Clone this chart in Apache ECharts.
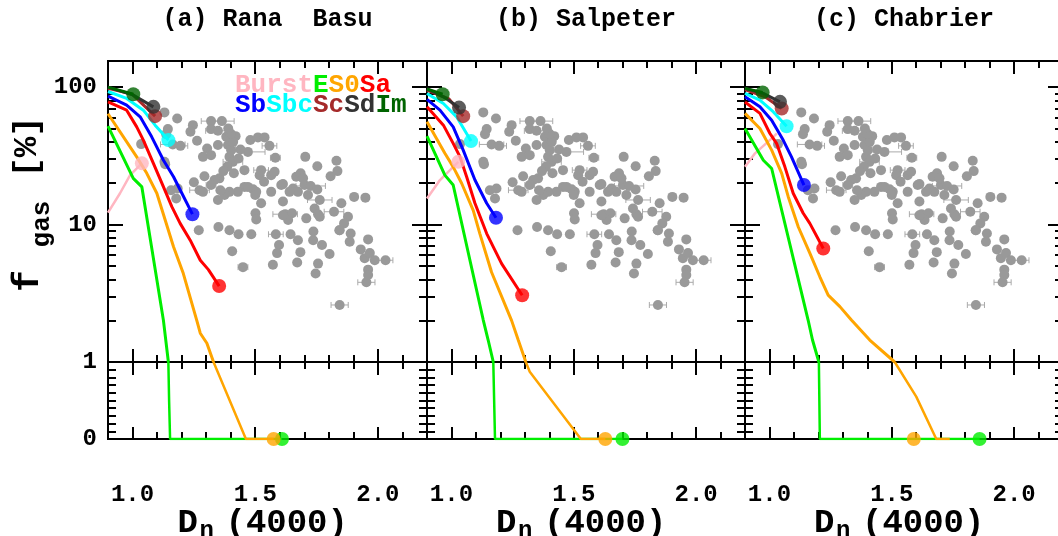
<!DOCTYPE html>
<html>
<head>
<meta charset="utf-8">
<script src="https://cdn.jsdelivr.net/npm/echarts@6/dist/echarts.min.js"></script>
<style>
html, body { margin: 0; padding: 0; background: #fff; }
#chart { width: 1058px; height: 536px; }
</style>
</head>
<body>
<div id="chart"></div>
<script>
// observed galaxies: [Dn(4000), f_gas %, x error]
const obs = [
  [1.130,65.5,0],[1.182,59.2,0],[1.246,52.9,0],[1.144,49.5,0],[1.137,45.5,0],[1.236,47.3,0],
  [1.164,38.3,0.05],[1.195,37.4,0.03],[1.263,40.7,0],[1.320,56.6,0.04],[1.364,56.6,0.05],[1.320,49.5,0],
  [1.348,48.1,0.05],[1.382,43.5,0],[1.389,37.9,0.03],[1.348,37.9,0],[1.304,35.8,0],[1.287,31.1,0],
  [1.320,32.0,0],[1.395,31.1,0],[1.409,28.6,0.04],[1.432,30.3,0],[1.470,33.8,0.07],[1.480,41.2,0],
  [1.511,43.1,0],[1.538,43.1,0],[1.558,37.4,0.03],[1.582,30.6,0.02],[1.704,31.1,0],[1.753,26.6,0],
  [1.831,29.1,0],[1.835,24.5,0],[1.807,22.5,0],[1.667,22.3,0],[1.685,23.6,0],[1.701,19.4,0],
  [1.726,19.1,0.06],[1.654,18.3,0],[1.606,19.4,0],[1.565,22.9,0],[1.524,24.9,0.03],[1.518,22.9,0],
  [1.536,20.5,0],[1.565,17.3,0],[1.504,17.3,0],[1.491,18.1,0],[1.456,18.8,0],[1.429,17.3,0],
  [1.395,17.3,0],[1.375,16.4,0],[1.348,15.1,0],[1.354,21.7,0],[1.334,21.1,0],[1.320,19.4,0.02],
  [1.293,22.5,0],[1.250,20.3,0],[1.273,17.8,0.04],[1.287,17.3,0],[1.157,17.8,0],[1.184,18.3,0],
  [1.178,15.5,0],[1.133,27.5,0],[1.130,28.6,0],[1.524,14.3,0],[1.501,12.1,0],[1.504,10.9,0],
  [1.613,14.7,0],[1.622,11.9,0.05],[1.650,12.1,0],[1.634,10.8,0],[1.708,11.1,0],[1.742,13.1,0],
  [1.763,15.1,0.05],[1.756,11.9,0],[1.763,11.4,0],[1.821,12.4,0.04],[1.851,14.3,0],[1.878,11.4,0],
  [1.862,10.2,0],[1.844,9.1,0],[1.903,15.9,0],[1.949,15.7,0],[1.715,16.4,0],[1.674,17.3,0],
  [1.613,11.7,0],[1.270,9.1,0],[1.350,9.6,0],[1.395,9.1,0],[1.432,8.5,0],[1.484,8.5,0],
  [1.406,6.4,0],[1.450,4.9,0.02],[1.584,8.5,0.03],[1.597,7.1,0],[1.589,6.2,0],[1.572,5.1,0],
  [1.644,8.5,0],[1.674,7.7,0],[1.684,6.3,0],[1.671,5.3,0],[1.737,8.9,0],[1.736,7.7,0],
  [1.772,7.1,0],[1.756,5.2,0],[1.746,4.4,0],[1.803,6.1,0],[1.843,9.1,0],[1.889,8.6,0],
  [1.885,7.5,0],[1.930,6.6,0],[1.960,7.8,0],[1.946,5.7,0],[1.967,6.2,0],[1.987,5.5,0],
  [2.031,5.5,0.03],[1.960,4.7,0],[1.960,4.3,0],[1.953,3.8,0.035],[1.844,2.6,0.035],[1.579,24.2,0],
  [1.613,19.7,0],[1.640,17.3,0],[1.695,21.7,0],[1.753,18.0,0],[1.456,24.9,0],[1.440,35.2,0],
  [1.402,34.8,0],[1.413,23.6,0],[1.358,17.8,0],[1.500,16.4,0],[1.035,38.5,0],[1.386,26.3,0],
  [1.370,24.5,0],[1.420,44.0,0],[1.410,40.0,0],[1.400,46.0,0],[1.390,50.0,0],[1.470,18.8,0]
];

// (a) Rana & Basu IMF model tracks
const rbBurst = [[0.9,12.2],[0.949,16.9],[0.99,22.9],[1.038,27.9]];
const rbE = [[0.9,52],[1.003,21.7],[1.038,18.8],[1.126,2.0],[1.146,1]];
const rbElow = [[1.146,1],[1.149,0.5],[1.153,0],[1.609,0]];
const rbS0 = [[0.9,64],[1.017,31.1],[1.058,23.6],[1.099,16.9],[1.133,10.8],[1.167,6.9],[1.207,4.4],[1.262,2.0],[1.276,1.62],[1.303,1.37],[1.330,1]];
const rbS0low = [[1.330,1],[1.462,0],[1.575,0]];
const rbSa = [[0.9,78],[0.976,68],[1.017,51.4],[1.044,41.2],[1.085,27.9],[1.126,18.8],[1.160,13.5],[1.194,10.2],[1.235,7.7],[1.276,5.5],[1.309,4.7],[1.353,3.57]];
const rbSb = [[0.9,86],[0.976,74],[1.031,60.8],[1.078,43.5],[1.126,29.4],[1.167,22.3],[1.201,16.9],[1.244,11.9]];
const rbSbc = [[0.9,93],[0.976,82.8],[1.044,68],[1.092,52.9],[1.146,41.2]];
const rbSc = [[0.9,98],[0.998,89],[1.092,61.5]];
const rbSd = [[0.9,100],[1.003,87.5],[1.085,71.9]];
const rbIm = [[0.9,100],[1.003,88.9]];

// (b) Salpeter
const saBurst = [[0.9,15.5],[0.953,21.1],[1.028,28.6]];
const saE = [[0.9,44],[0.973,22.9],[1.007,19.4],[1.130,2.02],[1.150,1.445],[1.171,1]];
const saElow = [[1.171,1],[1.178,0],[1.699,0]];
const saS0 = [[0.9,56],[0.973,33],[1.007,26.3],[1.042,19.9],[1.089,12.7],[1.116,8.6],[1.164,4.5],[1.246,2.0],[1.273,1.445],[1.304,1]];
const saS0low = [[1.304,1],[1.320,0.874],[1.529,0],[1.629,0]];
const saSa = [[0.9,72],[0.967,52.9],[1.007,39],[1.035,31.1],[1.062,22.3],[1.096,14.3],[1.144,8.6],[1.205,5.2],[1.289,3.06]];
const saSb = [[0.9,81.4],[0.953,68],[1.007,51.4],[1.048,34.8],[1.096,21.1],[1.144,14.3],[1.182,11.2]];
const saSbc = [[0.9,90],[0.967,76],[1.021,60.8],[1.080,40.5]];
const saSc = [[0.9,95],[0.99,82],[1.048,61.5]];
const saSd = [[0.9,97],[0.967,85],[1.031,71]];
const saIm = [[0.9,97],[0.964,88.9]];

// (c) Chabrier
const chBurst = [[0.9,26.3],[0.941,33],[1.016,43.5],[1.03,46]];
const chE = [[0.9,50],[0.975,29.4],[1.009,25.6],[1.158,2.02],[1.176,1.445],[1.202,1]];
const chElow = [[1.202,1],[1.206,0],[1.859,0]];
const chS0 = [[0.9,64.4],[0.961,50],[1.009,34.8],[1.050,23.6],[1.077,15.9],[1.118,9.6],[1.165,6.2],[1.206,4.17],[1.240,3.07],[1.288,2.53],[1.335,2.02],[1.41,1.445],[1.512,1]];
const chS0low = [[1.512,1],[1.60,0.55],[1.682,0],[1.737,0]];
const chS0dot = [[1.59,0]];
const chSa = [[0.9,78],[0.961,64.4],[1.002,46],[1.029,39],[1.063,26.3],[1.097,16.9],[1.138,12.1],[1.165,10.2],[1.220,6.7]];
const chSb = [[0.9,85],[0.961,71.9],[1.009,57.5],[1.056,41.2],[1.09,31.1],[1.141,19.4]];
const chSbc = [[0.9,90],[0.961,80.4],[1.016,66],[1.070,52]];
const chSc = [[0.9,96],[0.982,85],[1.050,70]];
const chSd = [[0.9,98],[0.975,90],[1.043,78.2]];
const chIm = [[0.9,98],[0.972,91.6]];

const panelTitles = ['(a) Rana  Basu', '(b) Salpeter', '(c) Chabrier'];
const types = ['Burst', 'E', 'S0', 'Sa', 'Sb', 'Sbc', 'Sc', 'Sd', 'Im'];
const colors = {
  Burst: '#ffb6c1', E: '#00ee00', S0: '#ffa500', Sa: '#ff0000', Sb: '#0000ff',
  Sbc: '#00ffff', Sc: '#a52a2a', Sd: '#333333', Im: '#006400'
};
const xMajor = [1.0, 1.5, 2.0];
const xMinor = [1.1, 1.2, 1.3, 1.4, 1.6, 1.7, 1.8, 1.9, 2.1];
const xLabels = [1.0, 1.5, 2.0];
const logMajor = [1, 10, 100];
const logMinor = [2, 3, 4, 5, 6, 7, 8, 9, 20, 30, 40, 50, 60, 70, 80, 90];
const logLabels = [10, 100];
const linMinor = [0.1, 0.2, 0.3, 0.4, 0.5, 0.6, 0.7, 0.8, 0.9];
const linLabels = [0, 1];

const panels = [
  { Burst: rbBurst, E: rbE, S0: rbS0, Sa: rbSa, Sb: rbSb, Sbc: rbSbc, Sc: rbSc, Sd: rbSd, Im: rbIm,
    Elow: rbElow, S0low: rbS0low, burstDot: true },
  { Burst: saBurst, E: saE, S0: saS0, Sa: saSa, Sb: saSb, Sbc: saSbc, Sc: saSc, Sd: saSd, Im: saIm,
    Elow: saElow, S0low: saS0low, burstDot: true },
  { Burst: chBurst, E: chE, S0: chS0, Sa: chSa, Sb: chSb, Sbc: chSbc, Sc: chSc, Sd: chSd, Im: chIm,
    Elow: chElow, S0low: chS0low, S0dot: chS0dot, burstDot: false }
];

const FONT = 'Liberation Mono';
const panelLeft = [108, 427, 745];
const panelWidth = [319, 318, 318];
const upTop = 61, upH = 301, loTop = 362, loH = 77;

const grids = [];
panelLeft.forEach((l, i) => {
  grids.push({ left: l, top: upTop, width: panelWidth[i], height: upH, containLabel: false, outerBoundsMode: 'none' });
  grids.push({ left: l, top: loTop, width: panelWidth[i], height: loH, containLabel: false, outerBoundsMode: 'none' });
});

const labelStyle = { show: true, color: '#000', fontFamily: FONT, fontWeight: 'bold', fontSize: 24 };

function xAx(g, pos, ticks, len, labels) {
  return {
    type: 'value', gridIndex: g, position: pos, min: 0.9, max: 2.2,
    axisLine: { show: true, onZero: false, lineStyle: { color: '#000', width: 2 } },
    axisTick: { show: true, inside: true, length: len, customValues: ticks, lineStyle: { color: '#000', width: 2 } },
    axisLabel: labels ? Object.assign({}, labelStyle, { customValues: labels, margin: 44, formatter: v => Number(v).toFixed(1) }) : { show: false },
    splitLine: { show: false }
  };
}

function yAx(g, pos, log, ticks, len, labels) {
  return {
    type: log ? 'log' : 'value', logBase: 10, gridIndex: g, position: pos,
    min: log ? 1 : 0, max: log ? 155 : 1,
    axisLine: { show: true, onZero: false, lineStyle: { color: '#000', width: 2 } },
    axisTick: { show: true, inside: true, length: len, customValues: ticks, lineStyle: { color: '#000', width: 2 } },
    axisLabel: labels ? Object.assign({}, labelStyle, { customValues: labels, margin: 11, formatter: v => String(Math.round(v)) }) : { show: false },
    splitLine: { show: false }
  };
}

const xAxes = [], yAxes = [];
// main axes first: index == grid index
for (let g = 0; g < 6; g++) {
  const lower = g % 2 === 1;
  xAxes.push(xAx(g, 'bottom', xMajor, lower ? 12 : 13, lower ? xLabels : null));
  const first = g < 2;
  yAxes.push(lower ? yAx(g, 'left', false, [0, 1], 8, first ? linLabels : null)
                   : yAx(g, 'left', true, logMajor, 15, first ? logLabels : null));
}
for (let g = 0; g < 6; g++) {
  const lower = g % 2 === 1;
  xAxes.push(xAx(g, 'bottom', xMinor, 7));
  xAxes.push(xAx(g, 'top', xMajor, 13));
  xAxes.push(xAx(g, 'top', xMinor, 7));
  if (lower) {
    yAxes.push(yAx(g, 'left', false, linMinor, 8));
    yAxes.push(yAx(g, 'right', false, linMinor, 8));
  } else {
    yAxes.push(yAx(g, 'left', true, logMinor, 8));
    yAxes.push(yAx(g, 'right', true, logMajor, 15));
    yAxes.push(yAx(g, 'right', true, logMinor, 8));
  }
}

function renderErr(params, api) {
  const e = api.value(2);
  if (!e) return null;
  const x = api.value(0), y = api.value(1);
  const a = api.coord([x - e, y]), b = api.coord([x + e, y]);
  const st = { stroke: '#aaaaaa', lineWidth: 1 };
  return {
    type: 'group', children: [
      { type: 'line', shape: { x1: a[0], y1: a[1], x2: b[0], y2: b[1] }, style: st },
      { type: 'line', shape: { x1: a[0], y1: a[1] - 3, x2: a[0], y2: a[1] + 3 }, style: st },
      { type: 'line', shape: { x1: b[0], y1: b[1] - 3, x2: b[0], y2: b[1] + 3 }, style: st }
    ]
  };
}

function lineS(g, data, color, w) {
  return {
    type: 'line', xAxisIndex: g, yAxisIndex: g, data: data, showSymbol: false, symbol: 'none',
    lineStyle: { color: color, width: w || 3 }, itemStyle: { color: color }, clip: true, z: 3
  };
}
function dotS(g, data, color) {
  return {
    type: 'scatter', xAxisIndex: g, yAxisIndex: g, data: data, symbol: 'circle', symbolSize: 14,
    itemStyle: { color: color }, clip: false, z: 3
  };
}

const series = [];
panels.forEach((p, i) => {
  const up = 2 * i, lo = 2 * i + 1;
  series.push({
    type: 'custom', xAxisIndex: up, yAxisIndex: up, data: obs, renderItem: renderErr,
    encode: { x: 0, y: 1 }, clip: true, z: 2
  });
  series.push({
    type: 'scatter', xAxisIndex: up, yAxisIndex: up, data: obs.map(d => [d[0], d[1]]),
    symbolSize: 10, itemStyle: { color: '#999999', opacity: 1 }, z: 2
  });
  types.forEach(t => {
    const c = colors[t];
    series.push(lineS(up, p[t], c, t === 'Burst' ? 2.5 : 3));
    if (t === 'E' || t === 'S0') {
      const low = p[t + 'low'];
      series.push(lineS(lo, low, c, 2.5));
      const dot = p[t + 'dot'] || [low[low.length - 1]];
      series.push(dotS(lo, dot, c));
    } else if (t !== 'Burst' || p.burstDot) {
      const d = p[t];
      series.push(dotS(up, [d[d.length - 1]], c));
    }
  });
});

const graphic = [];
const centers = panelLeft.map((l, i) => l + panelWidth[i] / 2);
function txt(x, y, text, size, color, align, rot) {
  return {
    type: 'text', x: x, y: y, rotation: rot || 0, z: 10,
    style: {
      text: text, fill: color || '#000', font: 'bold ' + size + 'px "' + FONT + '"',
      textAlign: align || 'center', textVerticalAlign: 'middle',
      align: align || 'center', verticalAlign: 'middle'
    }
  };
}
panelTitles.forEach((t, i) => {
  graphic.push(txt(centers[i], 20, t, 25));
  graphic.push(txt(centers[i] - 90, 523, 'D', 34, '#000', 'left'));
  graphic.push(txt(centers[i] - 68, 531, 'n', 24, '#000', 'left'));
  graphic.push(txt(centers[i] - 42, 523, '(4000)', 34, '#000', 'left'));
});
// y axis title, reading bottom to top
graphic.push(txt(29, 281, 'f', 36, '#000', 'center', Math.PI / 2));
graphic.push(txt(42, 224, 'gas', 26, '#000', 'center', Math.PI / 2));
graphic.push(txt(27, 147, '[%]', 34, '#000', 'center', Math.PI / 2));
// legend
const legRow1 = ['Burst', 'E', 'S0', 'Sa'];
const legRow2 = ['Sb', 'Sbc', 'Sc', 'Sd', 'Im'];
[[legRow1, 85], [legRow2, 105]].forEach(([row, y]) => {
  let x = 235;
  row.forEach(t => {
    graphic.push(txt(x, y, t, 26, colors[t], 'left'));
    x += t.length * 15.6;
  });
});

const chart = echarts.init(document.getElementById('chart'), null, { renderer: 'canvas' });
chart.setOption({
  animation: false,
  backgroundColor: '#fff',
  grid: grids,
  xAxis: xAxes,
  yAxis: yAxes,
  series: series,
  graphic: graphic
});
</script>
</body>
</html>
